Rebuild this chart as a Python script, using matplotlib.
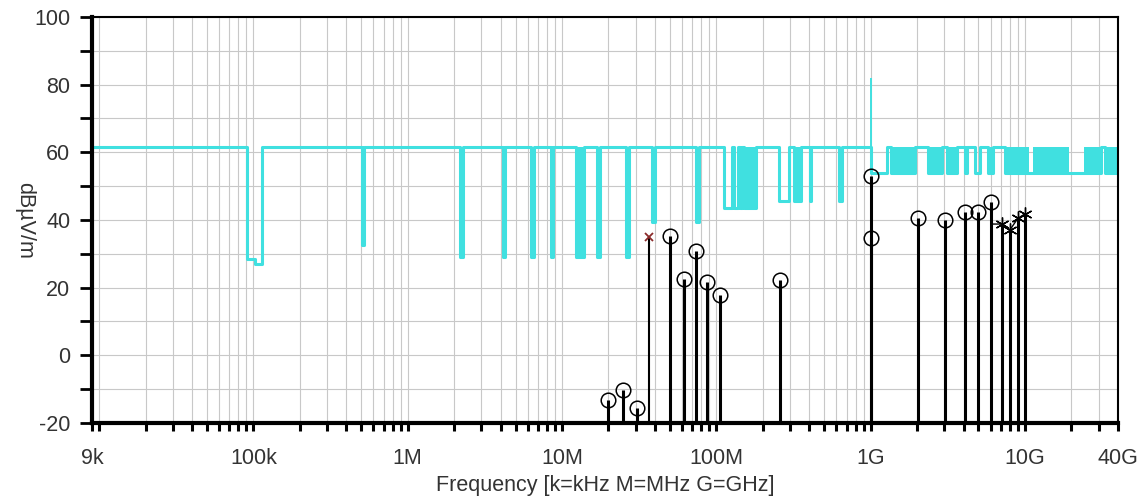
#! /usr/bin/env python3
import matplotlib
matplotlib.use('Agg')
import matplotlib.pyplot as plt
from matplotlib.ticker import NullFormatter

plt.rcParams['font.family'] = ['Liberation Sans', 'DejaVu Sans']
plt.rcParams['axes.unicode_minus'] = False

# limit line (steps-post): frequency [Hz] where each level starts
limit_f = [9e3, 91e3, 102e3, 113e3, 505e3, 518e3,
           2.18e6, 2.27e6, 4.12e6, 4.3e6, 6.3e6, 6.55e6, 8.45e6, 8.8e6,
           12.3e6, 13.9e6, 16.8e6, 17.5e6, 26.0e6, 27.0e6,
           38.3e6, 40.0e6, 73.5e6, 77.0e6,
           112.7e6, 127e6, 131e6, 139e6, 143e6, 147.5e6, 152e6, 182e6,
           253e6, 294e6, 321e6, 356e6, 402e6, 412e6, 620e6, 648e6,
           1.0e9, 1.27e9, 1.36e9, 1.94e9, 2.34e9, 2.92e9, 3.14e9, 3.63e9,
           4.1e9, 4.2e9, 4.75e9, 5.12e9, 5.78e9, 6.2e9, 7.4e9,
           10.6e9, 11.2e9, 19.3e9, 24e9, 31e9, 33e9, 40e9]
limit_db = [61.5, 28.5, 27, 61.5, 32.5, 61.5,
            29, 61.5, 29, 61.5, 29, 61.5, 29, 61.5,
            29, 61.5, 29, 61.5, 29, 61.5,
            39.5, 61.5, 39.5, 61.5,
            43.5, 61.5, 43.5, 61.5, 43.5, 61.5, 43.5, 61.5,
            45.5, 61.5, 45.5, 61.5, 45.5, 61.5, 45.5, 61.5,
            54, 61.5, 54, 61.5, 54, 61.5, 54, 61.5,
            54, 61.5, 54, 61.5, 54, 61.5, 54,
            54, 54, 54, 54, 61.5, 54, 54]

# regions where the limit toggles so fast it looks filled
dense_start = [12.3e6, 152e6, 321e6, 1.36e9, 2.34e9, 3.14e9, 5.78e9, 7.4e9, 11.2e9, 24e9, 33e9]
dense_stop = [13.9e6, 182e6, 356e6, 1.94e9, 2.92e9, 3.63e9, 6.2e9, 10.6e9, 19.3e9, 31e9, 40e9]
dense_low = [29, 43.5, 45.5, 54, 54, 54, 54, 54, 54, 54, 54]
dense_high = 61.5

spike_f = 1.0e9
spike_top = 82

# measured peaks (circles)
peak_f = [20e6, 25e6, 30.5e6, 50e6, 62e6, 74e6, 87e6, 105e6, 260e6,
          1.0e9, 1.0e9, 2.04e9, 3.04e9, 4.1e9, 5.0e9, 6.04e9]
peak_db = [-13.1, -10.2, -15.5, 35.3, 22.5, 30.7, 21.8, 17.9, 22.4,
           53.0, 34.8, 40.5, 40.0, 42.5, 42.5, 45.4]

# single cross point
cross_f = [36.7e6]
cross_db = [35.1]

# star points (joined by a thin line)
star_f = [6.04e9, 7.1e9, 8.0e9, 9.0e9, 10.0e9]
star_db = [38.8, 38.8, 37.1, 40.5, 41.8]

cyan = '#40E0E0'
ymin, ymax = -20, 100

fig = plt.figure(figsize=(11.43, 4.99), dpi=100)
ax = fig.add_axes([0.0805, 0.1523, 0.8975, 0.8137])

ax.set_xscale('log')
ax.set_xlim(9e3, 40e9)
ax.set_ylim(ymin, ymax)

ax.plot(limit_f, limit_db, drawstyle='steps-post', color=cyan, lw=2.2, zorder=2)
for f0, f1, lo in zip(dense_start, dense_stop, dense_low):
    ax.fill_between([f0, f1], [lo, lo], [dense_high, dense_high], color=cyan, lw=0, zorder=2)
ax.vlines(spike_f, 61.5, spike_top, color=cyan, lw=1.4, zorder=2)

ax.vlines(peak_f, ymin, peak_db, color='black', lw=2.2, zorder=3)
ax.vlines(cross_f, ymin, cross_db, color='black', lw=1.5, zorder=3)
ax.vlines(star_f[1:], ymin, star_db[1:], color='black', lw=2.2, zorder=3)
ax.plot(peak_f, peak_db, 'o', mfc='none', mec='black', ms=10.5, mew=1.1, zorder=4)
ax.plot(cross_f, cross_db, 'x', color='#8a2a2a', ms=6, mew=1.3, zorder=4)
ax.plot(star_f, star_db, '-', color='black', lw=1.0, zorder=4)
ax.plot(star_f[1:], star_db[1:], marker=(6, 2, 0), ls='none', color='black', ms=10, mew=1.0, zorder=4)

# ticks
major_x = [9e3, 1e5, 1e6, 1e7, 1e8, 1e9, 1e10, 4e10]
major_lbl = ['9k', '100k', '1M', '10M', '100M', '1G', '10G', '40G']
minor_x = [k * 10.0**e for e in range(4, 11) for k in range(1, 10)]
minor_x = [v for v in minor_x if 9e3 < v < 4e10 and v not in major_x]
ax.set_xticks(major_x)
ax.set_xticklabels(major_lbl)
ax.set_xticks(minor_x, minor=True)
ax.xaxis.set_minor_formatter(NullFormatter())
ax.set_yticks(range(-20, 101, 20))
ax.set_yticks(range(-10, 100, 20), minor=True)

ax.grid(True, which='both', color='#c8c8c8', lw=0.8, zorder=0)
ax.set_axisbelow(True)

ax.tick_params(axis='x', which='both', direction='out', length=6, width=2.2,
               pad=12, labelsize=15.5, labelcolor='#333333')
ax.tick_params(axis='y', which='both', direction='out', length=8.5, width=2.0,
               pad=7, labelsize=15.5, labelcolor='#333333')

ax.spines['left'].set_linewidth(3)
ax.spines['bottom'].set_linewidth(3)
ax.spines['top'].set_linewidth(1.5)
ax.spines['right'].set_linewidth(1.5)

ax.set_xlabel('Frequency [k=kHz M=MHz G=GHz]', fontsize=15.5, color='#333333', labelpad=4)
ax.set_ylabel('dBµV/m', fontsize=15.5, color='#333333', rotation=270, va='center')
ax.yaxis.set_label_coords(-0.066, 0.5)

fig.savefig('out.png', dpi=100)
